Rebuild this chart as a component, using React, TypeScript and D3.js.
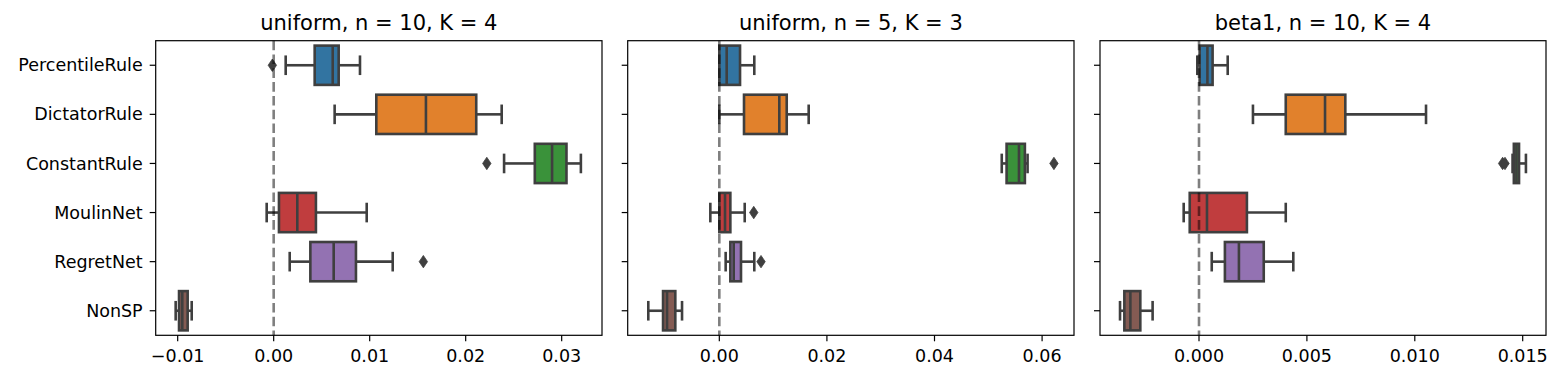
import React from "react";
import * as d3 from "d3";

const categories = ["PercentileRule", "DictatorRule", "ConstantRule", "MoulinNet", "RegretNet", "NonSP"];
const boxColors = ["#3274a1", "#e1812c", "#3a923a", "#c03d3e", "#9372b2", "#845b53"];

// [whisker low, q1, median, q3, whisker high] per category
const uniform10Stats = [
  [0.00125, 0.00427, 0.00615, 0.00677, 0.00899],
  [0.00635, 0.01069, 0.01586, 0.0211, 0.02375],
  [0.024, 0.0272, 0.029, 0.0305, 0.032],
  [-0.00073, 0.00055, 0.00246, 0.0044, 0.00969],
  [0.00167, 0.00382, 0.00625, 0.00857, 0.0124],
  [-0.01021, -0.00986, -0.00952, -0.00896, -0.00854],
];
const uniform10Outliers = [[-0.00014], [], [0.0222], [], [0.01559], []];

const uniform5Stats = [
  [0.0, 0.0, 0.00137, 0.00385, 0.0065],
  [0.0, 0.00459, 0.01115, 0.01253, 0.01661],
  [0.0525, 0.0534, 0.0557, 0.0568, 0.0573],
  [-0.00167, 0.0, 0.00106, 0.00205, 0.00472],
  [0.00118, 0.00205, 0.00267, 0.00403, 0.0065],
  [-0.0132, -0.01046, -0.00972, -0.00818, -0.00693],
];
const uniform5Outliers = [[], [], [0.0622], [0.0064], [0.00775], []];

const beta10Stats = [
  [-0.00008, 0.00003, 0.00039, 0.00063, 0.00133],
  [0.0025, 0.00402, 0.00584, 0.00678, 0.01052],
  [0.01453, 0.01459, 0.01471, 0.01483, 0.01515],
  [-0.00071, -0.00043, 0.00037, 0.00222, 0.00402],
  [0.00059, 0.0012, 0.00185, 0.003, 0.00437],
  [-0.00366, -0.00346, -0.00318, -0.00272, -0.00215],
];
const beta10Outliers = [[], [], [0.01407, 0.01418], [], [], []];

const uniform10Ticks = [-0.01, 0, 0.01, 0.02, 0.03];
const uniform5Ticks = [0, 0.02, 0.04, 0.06];
const beta10Ticks = [0, 0.005, 0.01, 0.015];

const panels = [
  { title: "uniform, n = 10, K = 4", stats: uniform10Stats, outliers: uniform10Outliers, ticks: uniform10Ticks, domain: [-0.01229, 0.0342], fmt: ".2f", x0: 155.7, x1: 602 },
  { title: "uniform, n = 5, K = 3", stats: uniform5Stats, outliers: uniform5Outliers, ticks: uniform5Ticks, domain: [-0.01703, 0.06593], fmt: ".2f", x0: 627.7, x1: 1074 },
  { title: "beta1, n = 10, K = 4", stats: beta10Stats, outliers: beta10Outliers, ticks: beta10Ticks, domain: [-0.004588, 0.01608], fmt: ".3f", x0: 1100, x1: 1546 },
];

const top = 40.7;
const bottom = 335.3;
const edge = "#3f3f3f";
const font = "DejaVu Sans, sans-serif";

const Panel = ({ p, showLabels }) => {
  const x = d3.scaleLinear().domain(p.domain).range([p.x0, p.x1]);
  const y = d3.scaleBand().domain(categories).range([top, bottom]).padding(0);
  const bw = y.bandwidth();
  const boxH = bw * 0.8;
  const capH = boxH / 2;
  const fmt = d3.format(p.fmt);

  return (
    <g>
      {p.stats.map((s, i) => {
        const cy = y(categories[i]) + bw / 2;
        const [lo, q1, med, q3, hi] = s;
        return (
          <g key={i} stroke={edge} strokeWidth={2.6}>
            <line x1={x(lo)} x2={x(q1)} y1={cy} y2={cy} />
            <line x1={x(q3)} x2={x(hi)} y1={cy} y2={cy} />
            <line x1={x(lo)} x2={x(lo)} y1={cy - capH / 2} y2={cy + capH / 2} />
            <line x1={x(hi)} x2={x(hi)} y1={cy - capH / 2} y2={cy + capH / 2} />
            <rect x={x(q1)} y={cy - boxH / 2} width={Math.max(x(q3) - x(q1), 0.5)} height={boxH} fill={boxColors[i]} />
            <line x1={x(med)} x2={x(med)} y1={cy - boxH / 2} y2={cy + boxH / 2} />
            {p.outliers[i].map((o, j) => (
              <path
                key={j}
                d={`M${x(o)},${cy - 6.2}L${x(o) + 4.2},${cy}L${x(o)},${cy + 6.2}L${x(o) - 4.2},${cy}Z`}
                fill={edge}
                strokeWidth={0.8}
              />
            ))}
          </g>
        );
      })}
      <line x1={x(0)} x2={x(0)} y1={top} y2={bottom} stroke="#000" strokeOpacity={0.5} strokeWidth={2.6} strokeDasharray="9.6,4.2" />
      <rect x={p.x0} y={top} width={p.x1 - p.x0} height={bottom - top} fill="none" stroke="#000" strokeWidth={1.2} />
      {p.ticks.map((t) => (
        <g key={t}>
          <line x1={x(t)} x2={x(t)} y1={bottom} y2={bottom + 6} stroke="#000" strokeWidth={1.2} />
          <text x={x(t)} y={362} textAnchor="middle" fontSize={17.5} fontFamily={font}>
            {fmt(t)}
          </text>
        </g>
      ))}
      {categories.map((c) => {
        const cy = y(c) + bw / 2;
        return (
          <g key={c}>
            <line x1={p.x0 - 6} x2={p.x0} y1={cy} y2={cy} stroke="#000" strokeWidth={1.2} />
            {showLabels && (
              <text x={p.x0 - 13} y={cy} dy="0.35em" textAnchor="end" fontSize={17.5} fontFamily={font}>
                {c}
              </text>
            )}
          </g>
        );
      })}
      <text x={(p.x0 + p.x1) / 2} y={29.5} textAnchor="middle" fontSize={21} fontFamily={font}>
        {p.title}
      </text>
    </g>
  );
};

export default function App() {
  return (
    <svg width={1562} height={380} style={{ position: "absolute", left: 0, top: 0, background: "#fff" }}>
      <rect width={1562} height={380} fill="#fff" />
      {panels.map((p, i) => (
        <Panel key={i} p={p} showLabels={i === 0} />
      ))}
    </svg>
  );
}
